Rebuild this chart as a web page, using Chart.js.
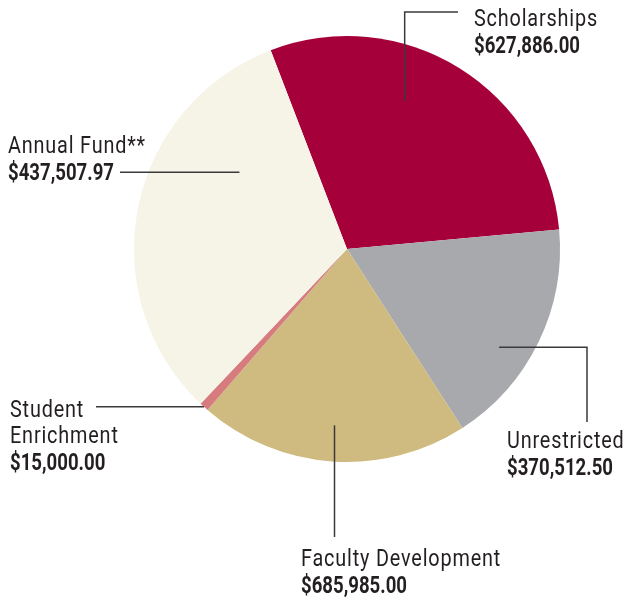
<!DOCTYPE html>
<html>
<head>
<meta charset="utf-8">
<script src="https://cdn.jsdelivr.net/npm/chart.js@4/dist/chart.umd.min.js"></script>
<style>
  body { margin: 0; background: #fff; }
  canvas { display: block; }
</style>
</head>
<body>
<canvas id="chart" width="628" height="598"></canvas>
<script>
const categories = ['Scholarships', 'Unrestricted', 'Faculty Development', 'Student Enrichment', 'Annual Fund**'];
// amounts as printed in the labels
const amounts = [627886.00, 370512.50, 685985.00, 15000.00, 437507.97];
// wedge sizes as drawn in the original graphic (tan and cream wedges carry each other's amount)
const sliceValues = [627886.00, 370512.50, 437507.97, 15000.00, 685985.00];
const colors = ['#A6003A', '#A7A9AC', '#CFBB80', '#D67C7F', '#F6F3E7'];

const FONT = 'Roboto, "Liberation Sans", sans-serif';

// label layout: name lines, text position, leader line (anchor inside the wedge, then elbow points)
const labelLayout = [
  { lines: ['Scholarships'], x: 474, y: 26, frac: 0.40, rf: 0.745, path: a => [[a.x, 12], [458, 12]] },
  { lines: ['Unrestricted'], x: 507, y: 448, frac: 0.61, rf: 0.85, path: a => [[587, a.y], [587, 422]] },
  { lines: ['Faculty Development'], x: 301, y: 566, frac: 0.5, rf: 0.83, path: a => [[a.x, 537]] },
  { lines: ['Student', 'Enrichment'], x: 10, y: 417, frac: 0.5, rf: 1.0, path: a => [[96, a.y]] },
  { lines: ['Annual Fund**'], x: 8, y: 153, frac: 0.71, rf: 0.62, path: a => [[120, a.y]] }
];

function money(v) {
  return '$' + v.toLocaleString('en-US', { minimumFractionDigits: 2, maximumFractionDigits: 2 });
}

// draw condensed text by squeezing horizontally
function squeezed(ctx, text, x, y, sx) {
  ctx.save();
  ctx.translate(x, y);
  ctx.scale(sx, 1);
  ctx.fillText(text, 0, 0);
  ctx.restore();
}

const labelsPlugin = {
  id: 'pieLabels',
  afterDraw(chart) {
    const ctx = chart.ctx;
    const meta = chart.getDatasetMeta(0);
    ctx.save();
    const nameFont = '24px ' + FONT;
    const valFont = 'bold 24px ' + FONT;
    ctx.font = nameFont;
    ctx.letterSpacing = '1px';
    const sxName = 124 / ctx.measureText('Scholarships').width;
    ctx.font = valFont;
    ctx.letterSpacing = '0px';
    const sxVal = 106 / ctx.measureText('$627,886.00').width;

    labelLayout.forEach((lab, i) => {
      const arc = meta.data[i].getProps(['x', 'y', 'startAngle', 'endAngle', 'outerRadius'], true);
      const ang = arc.startAngle + lab.frac * (arc.endAngle - arc.startAngle);
      const anchor = {
        x: arc.x + Math.cos(ang) * arc.outerRadius * lab.rf,
        y: arc.y + Math.sin(ang) * arc.outerRadius * lab.rf
      };
      ctx.strokeStyle = '#3a3a3a';
      ctx.lineWidth = 1.5;
      ctx.beginPath();
      ctx.moveTo(anchor.x, anchor.y);
      lab.path(anchor).forEach(p => ctx.lineTo(p[0], p[1]));
      ctx.stroke();

      ctx.fillStyle = '#231F20';
      ctx.textBaseline = 'alphabetic';
      ctx.textAlign = 'left';
      let y = lab.y;
      ctx.font = nameFont;
      ctx.letterSpacing = '1px';
      lab.lines.forEach(t => {
        squeezed(ctx, t, lab.x, y, sxName);
        y += 26;
      });
      ctx.font = valFont;
      ctx.letterSpacing = '0px';
      squeezed(ctx, money(amounts[i]), lab.x, y + 1, sxVal);
    });
    ctx.restore();
  }
};

new Chart(document.getElementById('chart'), {
  type: 'pie',
  data: {
    labels: categories,
    datasets: [{
      data: sliceValues,
      backgroundColor: colors,
      borderWidth: 0,
      radius: 213
    }]
  },
  options: {
    responsive: false,
    animation: false,
    rotation: -21,
    layout: { padding: { left: 66, right: 0, top: 0, bottom: 100 } },
    plugins: {
      legend: { display: false },
      tooltip: { enabled: false }
    }
  },
  plugins: [labelsPlugin]
});
</script>
</body>
</html>
